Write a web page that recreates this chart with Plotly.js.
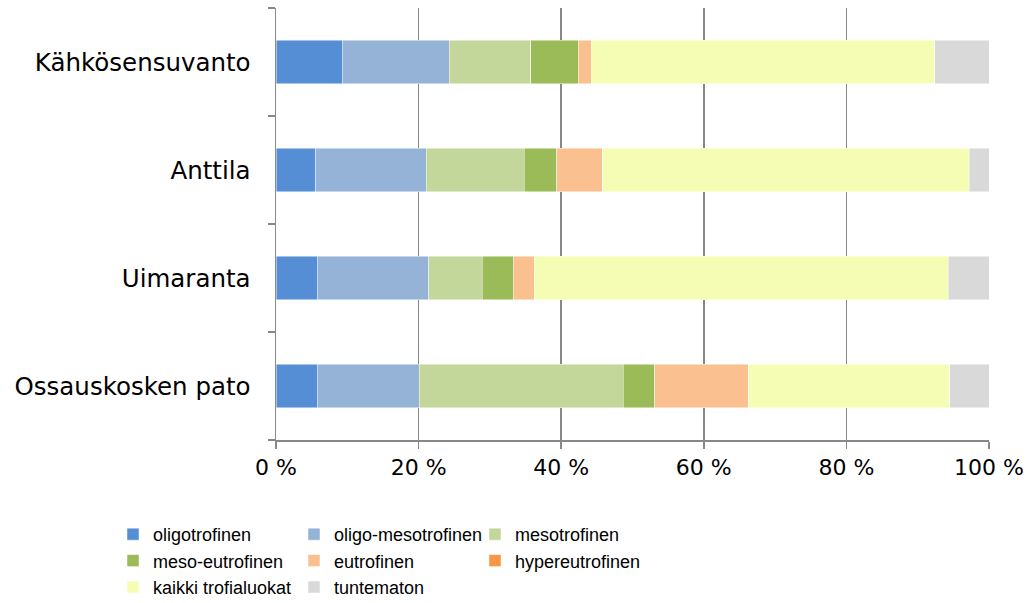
<!DOCTYPE html>
<html>
<head>
<meta charset="utf-8">
<script src="https://cdn.plot.ly/plotly-3.0.1.min.js"></script>
<style>html,body{margin:0;padding:0;background:#fff;}#chart{width:1033px;height:603px;}</style>
</head>
<body>
<div id="chart"></div>
<script>
const sites = ["Kähkösensuvanto", "Anttila", "Uimaranta", "Ossauskosken pato"];
const seriesNames = ["oligotrofinen", "oligo-mesotrofinen", "mesotrofinen", "meso-eutrofinen", "eutrofinen", "hypereutrofinen", "kaikki trofialuokat", "tuntematon"];
const oligotrofinen = [9.3, 5.6, 5.8, 5.8];
const oligoMesotrofinen = [15.0, 15.5, 15.6, 14.3];
const mesotrofinen = [11.4, 13.7, 7.5, 28.6];
const mesoEutrofinen = [6.7, 4.6, 4.4, 4.4];
const eutrofinen = [1.8, 6.4, 2.9, 13.2];
const hypereutrofinen = [0, 0, 0, 0];
const kaikkiTrofialuokat = [48.2, 51.4, 58.1, 28.2];
const tuntematon = [7.6, 2.8, 5.7, 5.5];
const tickValues = [0, 20, 40, 60, 80, 100];

const seriesValues = [oligotrofinen, oligoMesotrofinen, mesotrofinen, mesoEutrofinen, eutrofinen, hypereutrofinen, kaikkiTrofialuokat, tuntematon];
const colors = ["#558ED5", "#95B3D7", "#C4D79B", "#9BBB59", "#FAC090", "#F79646", "#F5FDB5", "#D9D9D9"];

const traces = seriesNames.map((name, i) => ({
  type: "bar",
  orientation: "h",
  name: name,
  y: sites,
  x: seriesValues[i],
  marker: {color: colors[i], line: {color: "rgba(255,255,255,0.6)", width: 0.8}},
  hoverinfo: "name+x"
}));

const layout = {
  width: 1033,
  height: 603,
  barmode: "stack",
  bargap: 0.6,
  paper_bgcolor: "#fff",
  plot_bgcolor: "#fff",
  margin: {l: 276, r: 44, t: 8, b: 163, pad: 0},
  font: {family: "DejaVu Sans, Verdana, sans-serif", color: "#000"},
  xaxis: {
    range: [0, 100],
    tickvals: tickValues,
    ticktext: tickValues.map(v => v + " %"),
    showgrid: true,
    gridcolor: "#888888",
    gridwidth: 1.5,
    zeroline: false,
    showline: true,
    linecolor: "#888888",
    linewidth: 1.5,
    ticks: "outside",
    ticklen: 7,
    tickwidth: 1.5,
    tickcolor: "#888888",
    tickfont: {size: 22, family: "DejaVu Sans, Verdana, sans-serif", color: "#000"},
    fixedrange: true
  },
  yaxis: {
    type: "category",
    categoryorder: "array",
    categoryarray: sites.slice().reverse(),
    showgrid: false,
    zeroline: false,
    showline: true,
    linecolor: "#888888",
    linewidth: 1.5,
    ticks: "outside",
    tickson: "boundaries",
    ticklen: 7,
    tickwidth: 1.5,
    tickcolor: "#888888",
    ticklabelstandoff: 19,
    tickfont: {size: 24.5, family: "DejaVu Sans, Verdana, sans-serif", color: "#000"},
    fixedrange: true
  },
  legend: {
    orientation: "h",
    xref: "container",
    yref: "container",
    x: 113 / 1033,
    xanchor: "left",
    y: 1 - 516 / 603,
    yanchor: "top",
    entrywidth: 136,
    entrywidthmode: "pixels",
    traceorder: "normal",
    font: {size: 18, family: "Liberation Sans, Arial, sans-serif", color: "#000"},
    bgcolor: "rgba(0,0,0,0)"
  },
  showlegend: true
};

Plotly.newPlot("chart", traces, layout, {displayModeBar: false, staticPlot: true});
</script>
</body>
</html>
